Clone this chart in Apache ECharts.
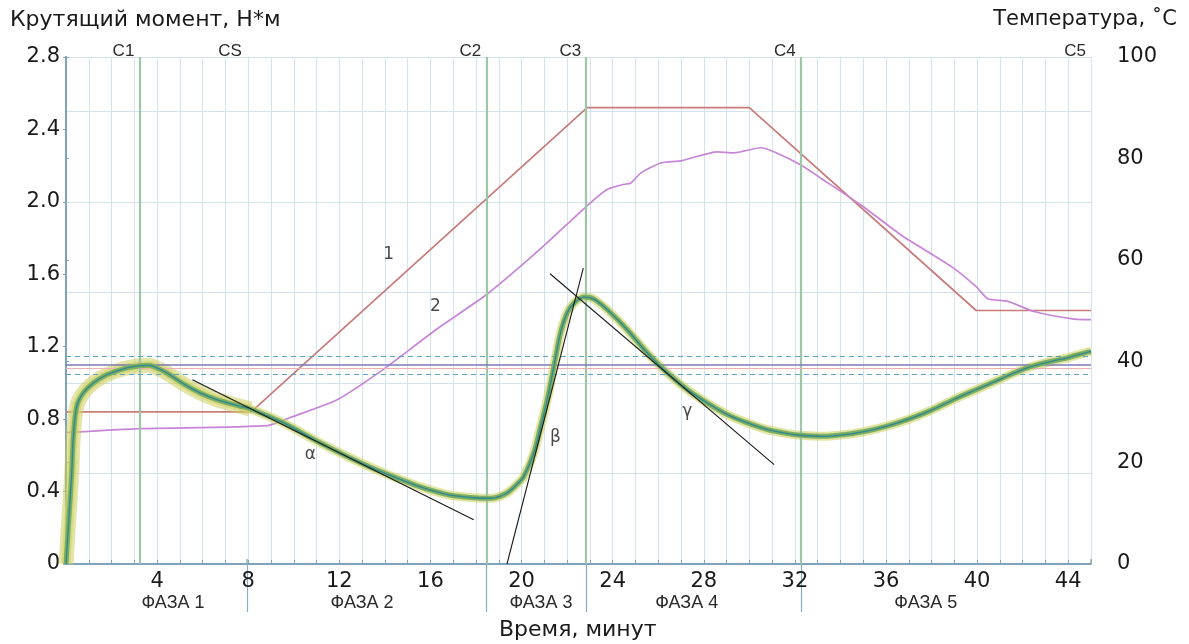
<!DOCTYPE html>
<html><head><meta charset="utf-8">
<script src="https://cdn.jsdelivr.net/npm/echarts@6/dist/echarts.min.js"></script>
<style>html,body{margin:0;padding:0;background:#fff}#c{width:1189px;height:644px}</style>
</head><body><div id="c"></div>
<script>
// ---- data ----
const timeTorque = [0, 0.1, 0.25, 0.32, 0.47, 0.76, 1.2, 1.79, 2.52, 3.25, 3.6, 3.84, 4.43, 5.16, 5.89, 6.62, 7.65, 8.1, 9.55, 11.02, 12.48, 13.95, 15.42, 16.2, 16.88, 17.9, 18.64, 19.3, 19.8, 20.1, 20.54, 20.84, 21.13, 21.42, 21.71, 22.0, 22.3, 22.74, 23.18, 23.77, 24.64, 25.52, 26.4, 27.28, 28.16, 29.04, 29.92, 30.8, 31.68, 32.26, 33.2, 34, 35, 36, 37, 38, 39, 40, 41, 41.8, 42.5, 43.25, 44, 44.7, 45];
const torque = [0, 0.2, 0.5, 0.7, 0.87, 0.945, 1.0, 1.045, 1.078, 1.095, 1.097, 1.091, 1.055, 0.995, 0.945, 0.908, 0.871, 0.856, 0.779, 0.678, 0.586, 0.503, 0.432, 0.401, 0.38, 0.366, 0.363, 0.388, 0.44, 0.484, 0.614, 0.76, 0.908, 1.091, 1.276, 1.386, 1.441, 1.474, 1.463, 1.404, 1.294, 1.165, 1.055, 0.963, 0.889, 0.825, 0.779, 0.742, 0.72, 0.711, 0.705, 0.712, 0.73, 0.76, 0.8, 0.85, 0.91, 0.965, 1.02, 1.064, 1.095, 1.119, 1.14, 1.165, 1.174];
const timeTemp1 = [0, 8.13, 22.88, 30.0, 39.96, 45];
const temp1 = [30, 30, 90, 90, 50, 50];
const timeTemp2 = [0, 3.25, 8.84, 9.85, 11.9, 13.9, 16.3, 18.45, 20.84, 22.84, 23.77, 24.5, 24.79, 25.23, 26.11, 26.99, 28.6, 29.32, 30.51, 31.08, 32.26, 33.14, 34.9, 36.66, 38.86, 39.96, 40.47, 41.35, 42.5, 44.26, 45];
const temp2 = [25.9, 26.7, 27.3, 28.9, 32.4, 38.3, 46.4, 53.1, 62.2, 70.5, 73.9, 74.9, 75.1, 77.1, 79.1, 79.5, 81.3, 81.1, 82.1, 81.3, 78.7, 76.1, 70.8, 64.9, 58.7, 54.7, 52.3, 51.8, 49.8, 48.3, 48.2];
const markerNames = ['C1', 'CS', 'C2', 'C3', 'C4', 'C5'];
const markerTimes = [3.22, 7.94, 18.45, 22.84, 32.26, 45];
const greenMarkerTimes = [3.22, 18.45, 22.84, 32.26];
const phaseDividers = [7.94, 18.45, 22.84, 32.26];
const phaseNames = ['ФАЗА 1', 'ФАЗА 2', 'ФАЗА 3', 'ФАЗА 4', 'ФАЗА 5'];
const phaseLabelTimes = [4.7, 13.0, 20.85, 27.25, 37.75];
const limitDashed = [1.146, 1.046];
const limitSolid = [1.097];
const tangentAlpha = [[5.55, 1.018], [17.9, 0.245]];
const tangentBeta = [[19.36, 0], [22.71, 1.634]];
const tangentGamma = [[21.25, 1.603], [31.09, 0.549]];
const annotTexts = ['1', '2', 'α', 'β', 'γ'];
const annotPoints = [[14.17, 1.711], [16.22, 1.422], [10.73, 0.604], [21.49, 0.696], [27.28, 0.843]];
const xLabelTicks = [4, 8, 12, 16, 20, 24, 28, 32, 36, 40, 44];

// ---- chart ----
const pairs = (xs, ys) => xs.map((x, i) => [x, ys[i]]);
const torqueData = pairs(timeTorque, torque);
const torqueEarly = torqueData.filter(p => p[0] <= 9);
const nearestIdx = (arr, v) => arr.reduce((b, a, i) => Math.abs(a - v) < Math.abs(arr[b] - v) ? i : b, 0);

const numFont = 'DejaVu Sans';
const axisCol = '#7fa3bb';
const chart = echarts.init(document.getElementById('c'), null, {renderer: 'canvas'});
const noLine = {symbol: 'none', silent: true};

chart.setOption({
  animation: false,
  backgroundColor: '#ffffff',
  title: [
    {text: 'Крутящий момент, Н*м', left: 10, top: 9, padding: 0, textStyle: {fontFamily: numFont, fontSize: 22, fontWeight: 'normal', color: '#1a1a1a'}},
    {text: 'Температура, ˚С', right: 12, top: 9, padding: 0, textStyle: {fontFamily: numFont, fontSize: 21, fontWeight: 'normal', color: '#1a1a1a'}},
    {text: 'Время, минут', left: 499, top: 619, padding: 0, textStyle: {fontFamily: numFont, fontSize: 22, fontWeight: 'normal', color: '#1a1a1a'}}
  ],
  grid: {left: 66, right: 98, top: 57, bottom: 80},
  xAxis: [
    {type: 'value', position: 'bottom', min: 0, max: 45, interval: 1,
     axisLine: {show: true, onZero: false, lineStyle: {color: axisCol, width: 2}},
     axisTick: {show: true, inside: true, length: 4, lineStyle: {color: axisCol}},
     axisLabel: {margin: 7, fontFamily: numFont, fontSize: 21, color: '#1a1a1a',
                 formatter: v => xLabelTicks.indexOf(v) >= 0 ? String(v) : ''},
     splitLine: {show: true, lineStyle: {color: '#d4e4ee', width: 1}}},
    {type: 'value', position: 'bottom', min: 0, max: 45,
     axisLine: {show: false},
     axisTick: {show: true, customValues: phaseDividers, length: 48, lineStyle: {color: '#86aebe', width: 1.2}},
     axisLabel: {show: true, customValues: phaseLabelTimes, margin: 30, fontFamily: 'Liberation Sans', fontSize: 18, color: '#2a2a2a',
                 formatter: v => phaseNames[nearestIdx(phaseLabelTimes, v)]},
     splitLine: {show: false}},
    {type: 'value', position: 'top', min: 0, max: 45,
     axisLine: {show: false},
     axisTick: {show: true, customValues: markerTimes, length: 5, lineStyle: {color: '#8fb4a8', width: 1.5}},
     axisLabel: {show: true, customValues: markerTimes, margin: -3, align: 'right', padding: [0, 5, 0, 0],
                 fontFamily: 'Liberation Sans', fontSize: 17, color: '#2a2a2a',
                 formatter: v => markerNames[nearestIdx(markerTimes, v)]},
     splitLine: {show: false}}
  ],
  yAxis: [
    {type: 'value', position: 'left', min: 0, max: 2.8, interval: 0.4,
     axisLine: {show: true, lineStyle: {color: axisCol, width: 2}},
     axisTick: {show: true, length: 3, lineStyle: {color: axisCol}},
     axisLabel: {margin: 6, fontFamily: numFont, fontSize: 21, color: '#1a1a1a',
                 formatter: v => v === 0 ? '0' : v.toFixed(1)},
     splitLine: {show: false}},
    {type: 'value', position: 'right', min: 0, max: 100, interval: 20,
     axisLine: {show: true, lineStyle: {color: axisCol, width: 2}},
     axisTick: {show: true, length: 3, lineStyle: {color: axisCol}},
     axisLabel: {margin: 26, fontFamily: numFont, fontSize: 21, color: '#1a1a1a'},
     splitLine: {show: false}},
    {type: 'value', position: 'left', min: 0, max: 2.8, interval: 0.5,
     axisLine: {show: false}, axisTick: {show: false}, axisLabel: {show: false},
     splitLine: {show: true, lineStyle: {color: '#d4e2ea', width: 1}}}
  ],
  series: [
    {type: 'line', name: 'markers', data: [], ...noLine, z: 1,
     markLine: {symbol: 'none', silent: true, label: {show: false},
       data: [
         ...greenMarkerTimes.map(t => ({xAxis: t, lineStyle: {color: '#9dc6a6', width: 2.2, type: 'solid'}})),
         ...limitDashed.map(v => ({yAxis: v, lineStyle: {color: '#5fa3c2', width: 1.2, type: [5, 4]}})),
         ...limitSolid.map(v => ({yAxis: v, lineStyle: {color: '#7c78b8', width: 1.6, type: 'solid'}})),
         ...limitSolid.map(v => ({yAxis: v - 0.012, lineStyle: {color: '#eab0b4', width: 1, type: 'solid'}}))
       ]}},
    {type: 'line', name: '1', yAxisIndex: 1, data: pairs(timeTemp1, temp1), ...noLine, z: 3,
     lineStyle: {color: '#c77c7a', width: 1.7}},
    {type: 'line', name: '2', yAxisIndex: 1, data: pairs(timeTemp2, temp2), ...noLine, z: 3, smooth: 0.2,
     lineStyle: {color: '#c785d8', width: 1.7}},
    {type: 'line', name: 'bandEarly', data: torqueEarly, ...noLine, z: 4, smooth: 0.3,
     lineStyle: {color: 'rgba(208,206,96,0.55)', width: 15}},
    {type: 'line', name: 'band', data: torqueData, ...noLine, z: 4, smooth: 0.3,
     lineStyle: {color: 'rgba(206,212,100,0.6)', width: 9}},
    {type: 'line', name: 'bandGreen', data: torqueData, ...noLine, z: 5, smooth: 0.3,
     lineStyle: {color: '#7bae62', width: 5}},
    {type: 'line', name: 'torque', data: torqueData, ...noLine, z: 6, smooth: 0.3,
     lineStyle: {color: '#2f8791', width: 1.3}},
    {type: 'line', name: 'alpha', data: tangentAlpha, ...noLine, z: 7, lineStyle: {color: '#1a1a1a', width: 1.1}},
    {type: 'line', name: 'beta', data: tangentBeta, ...noLine, z: 7, lineStyle: {color: '#1a1a1a', width: 1.1}},
    {type: 'line', name: 'gamma', data: tangentGamma, ...noLine, z: 7, lineStyle: {color: '#1a1a1a', width: 1.1}},
    {type: 'scatter', name: 'labels', symbolSize: 0, silent: true, z: 8,
     data: annotPoints.map((p, i) => ({value: p, name: annotTexts[i]})),
     label: {show: true, position: 'inside', formatter: p => p.name, fontFamily: numFont, fontSize: 17, color: '#1a1a1a'}}
  ]
});
</script></body></html>
